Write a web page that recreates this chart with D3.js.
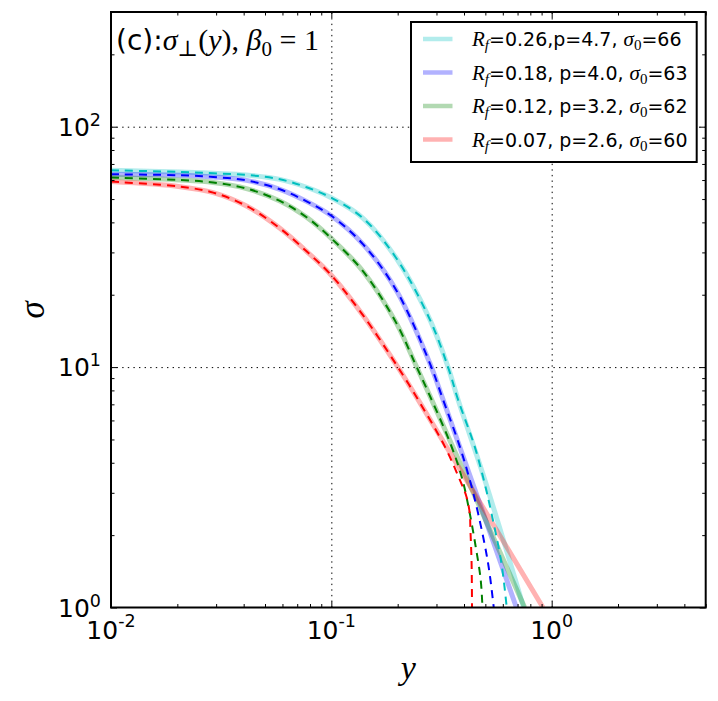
<!DOCTYPE html>
<html>
<head>
<meta charset="utf-8">
<script src="https://cdn.jsdelivr.net/npm/d3@7"></script>
<style>
    body { margin: 0; background: #fff; }
    text { font-family: "DejaVu Sans", sans-serif; fill: #000; }
    .it { font-family: "Liberation Serif", "DejaVu Serif", serif; font-style: italic; }
    .rm { font-family: "Liberation Serif", "DejaVu Serif", serif; font-style: normal; }
</style>
</head>
<body>
<svg width="718" height="701"></svg>
<script>
// values (x = y-coordinate, y = sigma)
const fitCyanX = [0.01, 0.0206, 0.0291, 0.0412, 0.0584, 0.0772, 0.1, 0.1394, 0.1976, 0.2797, 0.3386, 0.3759, 0.4968, 0.7464];
const fitCyanY = [65.9, 64.8, 64.0, 63.0, 60.4, 56.0, 50.6, 41.6, 28.3, 15.8, 10.0, 7.32, 3.40, 1.0];
const datCyanX = [0.01, 0.0206, 0.0291, 0.0412, 0.0584, 0.0772, 0.1, 0.1394, 0.1976, 0.2797, 0.3386, 0.3759, 0.447, 0.4916, 0.5328, 0.5913, 0.6251];
const datCyanY = [65.9, 64.8, 64.0, 63.0, 60.4, 56.0, 50.6, 41.6, 28.3, 15.8, 10.0, 7.32, 4.68, 3.40, 2.47, 1.53, 1.0];

const fitBlueX = [0.01, 0.0206, 0.0291, 0.0412, 0.0584, 0.0772, 0.1, 0.1394, 0.1976, 0.2797, 0.3214, 0.6916];
const fitBlueY = [63.4, 62.8, 61.8, 59.8, 54.9, 48.9, 42.6, 32.4, 20.8, 10.4, 7.32, 1.0];
const datBlueX = [0.01, 0.0206, 0.0291, 0.0412, 0.0584, 0.0772, 0.1, 0.1394, 0.1976, 0.2797, 0.3214, 0.3826, 0.4246, 0.4632, 0.5143, 0.5458];
const datBlueY = [63.4, 62.8, 61.8, 59.8, 54.9, 48.9, 42.6, 32.4, 20.8, 10.4, 7.32, 4.68, 3.40, 2.47, 1.53, 1.0];

const fitGreenX = [0.01, 0.0206, 0.0291, 0.0412, 0.0584, 0.0772, 0.1, 0.1394, 0.1976, 0.2416, 0.2797, 0.7544];
const fitGreenY = [61.4, 60.0, 58.6, 55.3, 49.1, 42.0, 34.3, 25.0, 15.2, 10.2, 7.61, 1.0];
const datGreenX = [0.01, 0.0206, 0.0291, 0.0412, 0.0584, 0.0772, 0.1, 0.1394, 0.1976, 0.2416, 0.2797, 0.3509, 0.3936, 0.4246, 0.4520, 0.4760, 0.4851];
const datGreenY = [61.4, 60.0, 58.6, 55.3, 49.1, 42.0, 34.3, 25.0, 15.2, 10.2, 7.61, 4.68, 3.40, 2.47, 1.79, 1.31, 1.0];

const fitRedX = [0.01, 0.0206, 0.0291, 0.0412, 0.0584, 0.0772, 0.1, 0.1394, 0.2004, 0.2475, 0.9130];
const fitRedY = [59.1, 56.3, 53.2, 46.8, 37.8, 30.3, 24.1, 16.4, 10.0, 7.32, 1.0];
const datRedX = [0.01, 0.0206, 0.0291, 0.0412, 0.0584, 0.0772, 0.1, 0.1394, 0.2004, 0.2475, 0.3271, 0.3826, 0.4104, 0.4246, 0.4278, 0.4330, 0.4349];
const datRedY = [59.1, 56.3, 53.2, 46.8, 37.8, 30.3, 24.1, 16.4, 10.0, 7.32, 4.68, 3.40, 2.89, 2.47, 2.10, 1.53, 1.0];

// legend labels
const legendRf = ["0.26", "0.18", "0.12", "0.07"];
const legendP = ["4.7", "4.0", "3.2", "2.6"];
const legendSigma0 = ["66", "63", "62", "60"];

const xMajor = [0.01, 0.1, 1];
const xMajorExp = ["-2", "-1", "0"];
const yMajor = [1, 10, 100];
const yMajorExp = ["0", "1", "2"];

const lineColors = ["#00bfbf", "#0000ff", "#008000", "#ff0000"];

const svg = d3.select("svg");
const margin = { left: 111, top: 12, right: 12.3, bottom: 93.5 };
const width = +svg.attr("width");
const height = +svg.attr("height");
const plotW = width - margin.left - margin.right;
const plotH = height - margin.top - margin.bottom;

const x = d3.scaleLog().domain([0.01, 5]).range([margin.left, margin.left + plotW]);
const y = d3.scaleLog().domain([1, 300]).range([margin.top + plotH, margin.top]);

const series = [
    { fit: d3.zip(fitCyanX, fitCyanY), dat: d3.zip(datCyanX, datCyanY) },
    { fit: d3.zip(fitBlueX, fitBlueY), dat: d3.zip(datBlueX, datBlueY) },
    { fit: d3.zip(fitGreenX, fitGreenY), dat: d3.zip(datGreenX, datGreenY) },
    { fit: d3.zip(fitRedX, fitRedY), dat: d3.zip(datRedX, datRedY) }
];

svg.append("defs").append("clipPath").attr("id", "plotClip")
    .append("rect")
    .attr("x", margin.left).attr("y", margin.top)
    .attr("width", plotW).attr("height", plotH);

// grid (dotted) at major decades
const gridX = svg.append("g")
    .attr("transform", `translate(0,${margin.top + plotH})`)
    .call(d3.axisBottom(x).tickValues([0.1, 1]).tickSize(-plotH).tickFormat(""));
const gridY = svg.append("g")
    .attr("transform", `translate(${margin.left},0)`)
    .call(d3.axisLeft(y).tickValues([10, 100]).tickSize(-plotW).tickFormat(""));
[gridX, gridY].forEach(g => {
    g.select(".domain").remove();
    g.selectAll("line").attr("stroke", "#000").attr("stroke-width", 1)
        .attr("stroke-dasharray", "1.4,4.2");
});

// curves
const line = d3.line()
    .x(d => x(d[0]))
    .y(d => y(d[1]))
    .curve(d3.curveCatmullRom.alpha(0.5));

const curves = svg.append("g").attr("clip-path", "url(#plotClip)");

series.forEach((s, i) => {
    curves.append("path")
        .attr("d", line(s.fit))
        .attr("fill", "none")
        .attr("stroke", lineColors[i])
        .attr("stroke-opacity", 0.3)
        .attr("stroke-width", 5);
});
series.forEach((s, i) => {
    curves.append("path")
        .attr("d", line(s.dat))
        .attr("fill", "none")
        .attr("stroke", lineColors[i])
        .attr("stroke-width", 2)
        .attr("stroke-dasharray", "8,6");
});

// ticks, pointing inward on all four sides
const xMinor = x.ticks().filter(v => !xMajor.some(m => Math.abs(m - v) < 1e-9));
const yMinor = y.ticks().filter(v => !yMajor.some(m => Math.abs(m - v) < 1e-9) && v < 300);

const tickAxes = [
    [d3.axisBottom(x), `translate(0,${margin.top + plotH})`, xMajor, xMinor],
    [d3.axisTop(x), `translate(0,${margin.top})`, xMajor, xMinor],
    [d3.axisLeft(y), `translate(${margin.left},0)`, yMajor, yMinor],
    [d3.axisRight(y), `translate(${margin.left + plotW},0)`, yMajor, yMinor]
];
tickAxes.forEach(([axis, tr, major, minor]) => {
    const gMaj = svg.append("g").attr("transform", tr)
        .call(axis.tickValues(major).tickSize(-6).tickFormat(""));
    gMaj.select(".domain").remove();
    const gMin = svg.append("g").attr("transform", tr)
        .call(axis.tickValues(minor).tickSize(-3.5).tickFormat(""));
    gMin.select(".domain").remove();
    svg.selectAll(".tick line").attr("stroke", "#000").attr("stroke-width", 1);
});

// frame
svg.append("rect")
    .attr("x", margin.left).attr("y", margin.top)
    .attr("width", plotW).attr("height", plotH)
    .attr("fill", "none").attr("stroke", "#000").attr("stroke-width", 2);

// tick labels 10^n
xMajor.forEach((v, i) => {
    const t = svg.append("text")
        .attr("x", x(v)).attr("y", margin.top + plotH + 31)
        .attr("text-anchor", "middle")
        .style("font-size", "25px");
    t.append("tspan").text("10");
    t.append("tspan").attr("dy", -11.5).style("font-size", "17.5px").text(xMajorExp[i]);
});
yMajor.forEach((v, i) => {
    const t = svg.append("text")
        .attr("x", margin.left - 10).attr("y", y(v) + 9)
        .attr("text-anchor", "end")
        .style("font-size", "25px");
    t.append("tspan").text("10");
    t.append("tspan").attr("dy", -10).style("font-size", "17.5px").text(yMajorExp[i]);
});

// axis labels
svg.append("text")
    .attr("class", "it")
    .attr("x", margin.left + plotW / 2).attr("y", 679)
    .attr("text-anchor", "middle")
    .style("font-size", "34px")
    .text("y");
svg.append("text")
    .attr("class", "it")
    .attr("transform", `translate(44,${margin.top + plotH / 2}) rotate(-90)`)
    .attr("text-anchor", "middle")
    .style("font-size", "35px")
    .text("σ");

// panel title
const title = svg.append("text").attr("x", 116).attr("y", 50);
title.append("tspan").style("font-size", "28px").text("(c):");
title.append("tspan").attr("class", "it").style("font-size", "30px").text("σ");
title.append("tspan").attr("class", "rm").attr("dy", 6).style("font-size", "22px").text("⊥");
title.append("tspan").attr("class", "rm").attr("dy", -6).style("font-size", "30px").text("(");
title.append("tspan").attr("class", "it").style("font-size", "30px").text("y");
title.append("tspan").attr("class", "rm").style("font-size", "30px").text("), ");
title.append("tspan").attr("class", "it").style("font-size", "30px").text("β");
title.append("tspan").attr("class", "rm").attr("dy", 6).style("font-size", "21px").text("0");
title.append("tspan").attr("class", "rm").attr("dy", -6).style("font-size", "30px").text(" = 1");

// legend
const legend = svg.append("g");
legend.append("rect")
    .attr("x", 411).attr("y", 22)
    .attr("width", 285.7).attr("height", 140)
    .attr("fill", "#fff").attr("stroke", "#000").attr("stroke-width", 2);

legendRf.forEach((rf, i) => {
    const row = legend.append("g").attr("transform", `translate(0,${39 + i * 33.5})`);
    row.append("line")
        .attr("x1", 423).attr("x2", 452.5)
        .attr("stroke", lineColors[i]).attr("stroke-opacity", 0.3)
        .attr("stroke-width", 4.5);
    const t = row.append("text").attr("x", 472).attr("y", 7).style("font-size", "19px");
    t.append("tspan").attr("class", "it").style("font-size", "21px").text("R");
    t.append("tspan").attr("class", "it").attr("dy", 4).style("font-size", "15px").text("f");
    const sep = i === 0 ? "," : ", ";
    t.append("tspan").attr("dy", -4).text(`=${rf}${sep}p=${legendP[i]}, `);
    t.append("tspan").attr("class", "it").style("font-size", "21px").text("σ");
    t.append("tspan").attr("class", "rm").attr("dy", 4).style("font-size", "15px").text("0");
    t.append("tspan").attr("dy", -4).text(`=${legendSigma0[i]}`);
});
</script>
</body>
</html>
